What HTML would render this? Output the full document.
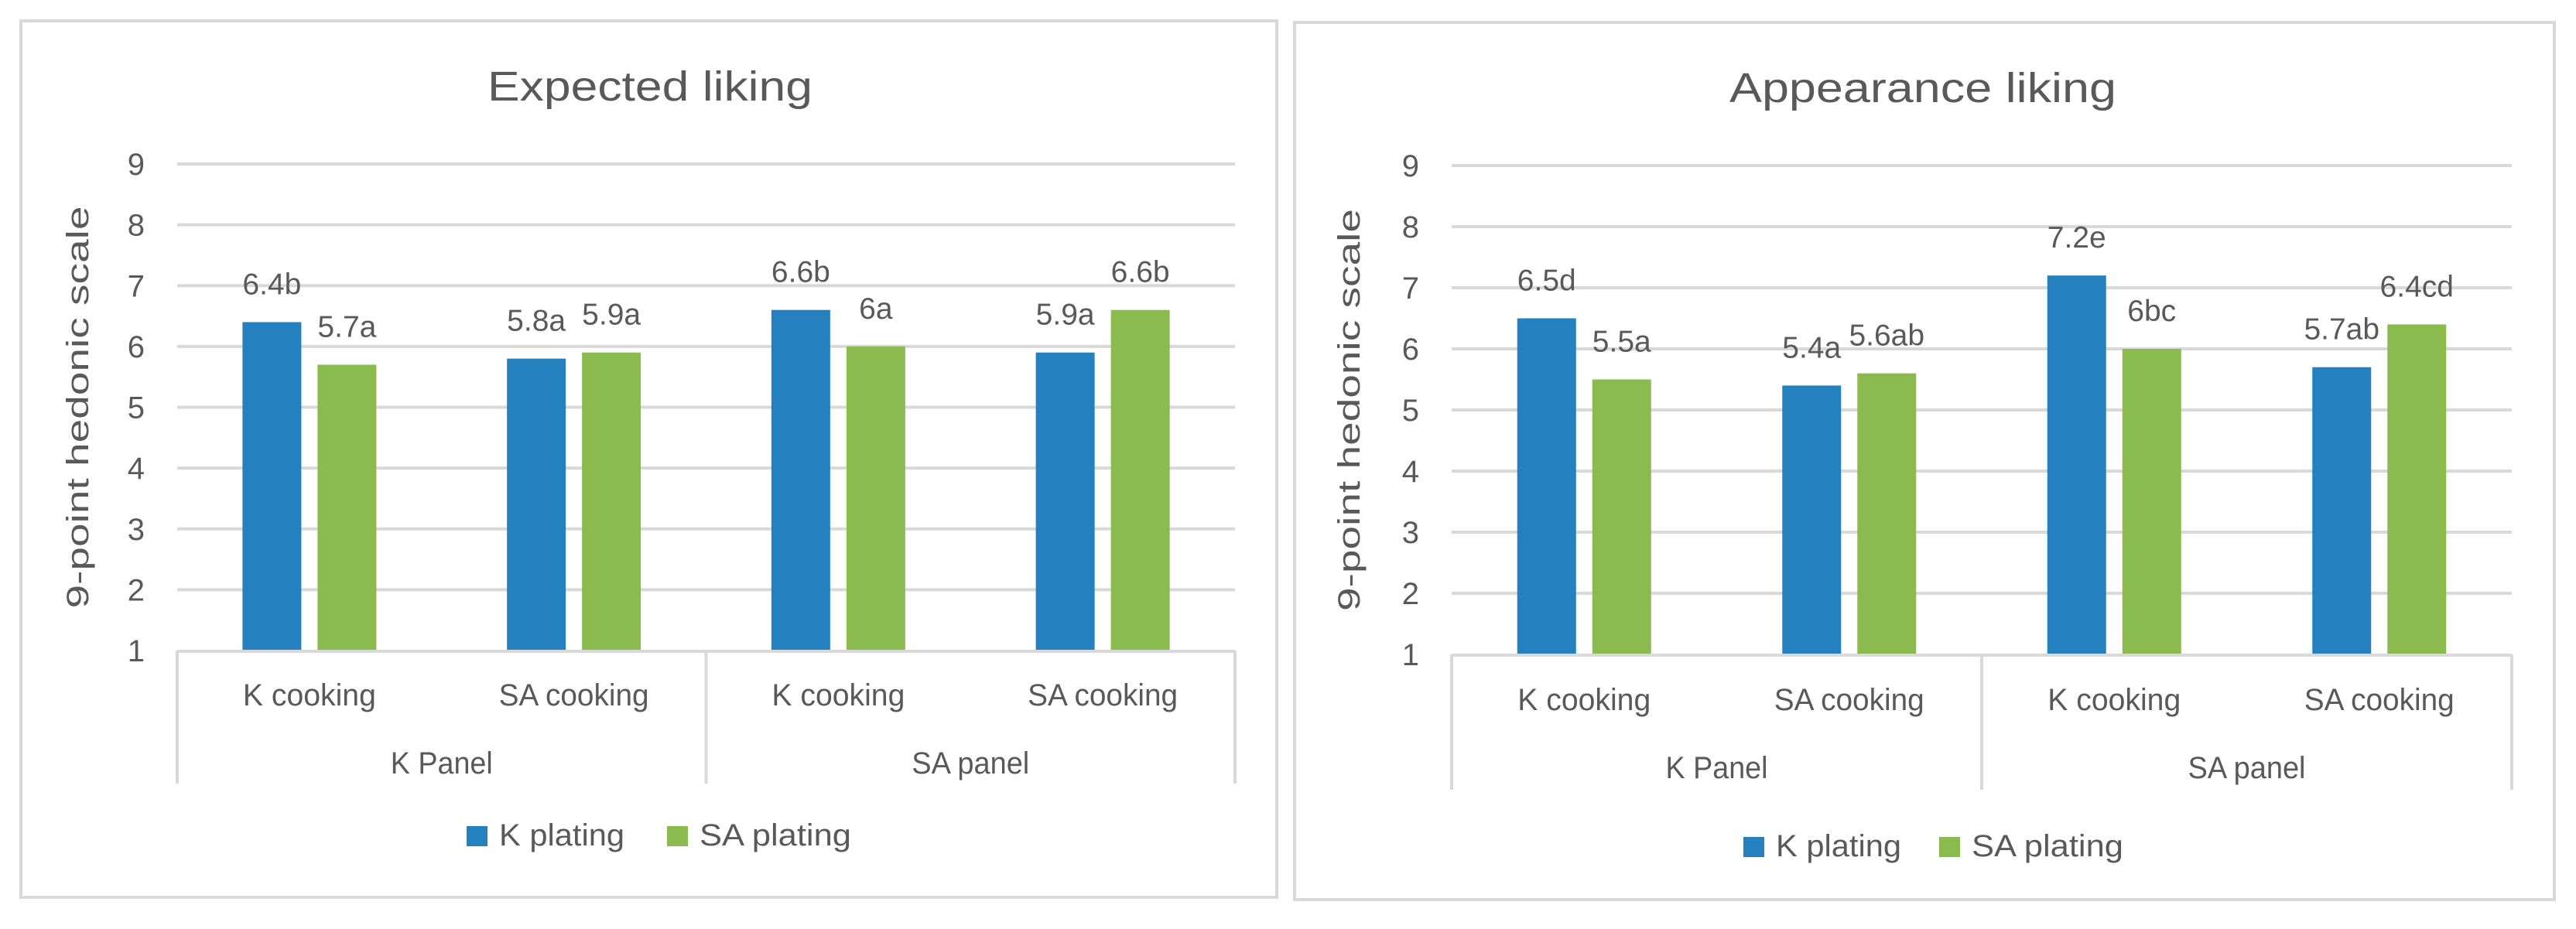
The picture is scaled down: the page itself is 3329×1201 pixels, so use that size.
<!DOCTYPE html>
<html><head><meta charset="utf-8"><style>
html,body{margin:0;padding:0;background:#fff;}
svg text{font-family:"Liberation Sans",sans-serif;fill:#595959;}
</style></head><body>
<svg id="root" width="3329" height="1196" viewBox="0 0 3329 1196" xmlns="http://www.w3.org/2000/svg">
<rect x="0" y="0" width="3329" height="1196" fill="#fff"/>
</svg>
<script>
const categories = ["K cooking","SA cooking","K cooking","SA cooking"];
const groups = ["K Panel","SA panel"];
const series = ["K plating","SA plating"];
const yTicks = [1,2,3,4,5,6,7,8,9];
const expKPlating = [6.4,5.8,6.6,5.9];
const expSAPlating = [5.7,5.9,6.0,6.6];
const expKLabels = ["6.4b","5.8a","6.6b","5.9a"];
const expSALabels = ["5.7a","5.9a","6a","6.6b"];
const appKPlating = [6.5,5.4,7.2,5.7];
const appSAPlating = [5.5,5.6,6.0,6.4];
const appKLabels = ["6.5d","5.4a","7.2e","5.7ab"];
const appSALabels = ["5.5a","5.6ab","6bc","6.4cd"];

const NS="http://www.w3.org/2000/svg";
const root=document.getElementById('root');
const colors=["#2580c0","#8bbb4f"];
function mk(tag,attrs,parent){const e=document.createElementNS(NS,tag);for(const k in attrs)e.setAttribute(k,attrs[k]);(parent||root).appendChild(e);return e;}

function chart(cfg){
  const g=mk('g',{});
  
  
  const fr=mk('rect',{x:cfg.fx,y:cfg.fy,width:cfg.fw,height:cfg.fh,fill:'#fff',stroke:'#d9d9d9','stroke-width':4},g);
  
  
  const t=mk('text',{x:cfg.tcx,y:cfg.ty,'text-anchor':'middle','font-size':54,textLength:cfg.tlen,lengthAdjust:'spacingAndGlyphs'},g);
  t.textContent=cfg.title;
  
  
  const x0=cfg.x0,x1=cfg.x1,ytop=cfg.y9,ybot=cfg.y1;
  const yS=v=>ybot-(v-1)*(ybot-ytop)/8;
  const cw=(x1-x0)/categories.length;
  const xC=i=>x0+cw*(i+0.5);
  yTicks.forEach(v=>{
    if(v>1){const l=mk('line',{x1:x0,x2:x1,y1:yS(v),y2:yS(v),stroke:'#d9d9d9','stroke-width':4},g);
      
      }
    const tl=mk('text',{x:cfg.x0-42,y:yS(v)+14,'text-anchor':'end','font-size':40},g);
    tl.textContent=v;
    
    
  });
  const yt=mk('text',{x:0,y:0,'text-anchor':'middle','font-size':40,textLength:520,lengthAdjust:'spacingAndGlyphs',transform:`translate(${cfg.ytx},${(ytop+ybot)/2}) rotate(-90)`},g);
  yt.textContent='9-point hedonic scale';
  
  
  const vals=[cfg.k,cfg.sa], labs=[cfg.kl,cfg.sal];
  const bw=76, off=48.5;
  for(let s=0;s<2;s++){
    vals[s].forEach((v,i)=>{
      const cx=xC(i)+(s===0?-off:off);
      const b=mk('rect',{x:cx-bw/2,y:yS(v),width:bw,height:ybot-yS(v),fill:colors[s]},g);
      
      
      const lt=mk('text',{x:cx,y:yS(v)-36,'text-anchor':'middle','font-size':39},g);
      lt.textContent=labs[s][i];
      
      
    });
  }
  const ax=mk('line',{x1:x0,x2:x1,y1:ybot+1,y2:ybot+1,stroke:'#d9d9d9','stroke-width':4},g);
  
  
  [x0,(x0+x1)/2,x1].forEach(xx=>{
    const d=mk('line',{x1:xx,x2:xx,y1:ybot,y2:cfg.divB,stroke:'#d9d9d9','stroke-width':4},g);
    
    
  });
  categories.forEach((c,i)=>{
    const ct=mk('text',{x:xC(i),y:cfg.catY,'text-anchor':'middle','font-size':40,textLength:c.length>9?194:172,lengthAdjust:'spacingAndGlyphs'},g);
    ct.textContent=c;
    
    
  });
  groups.forEach((gname,i)=>{
    const gt=mk('text',{x:x0+(x1-x0)*(i*0.5+0.25),y:cfg.grpY,'text-anchor':'middle','font-size':40,textLength:gname==='K Panel'?132:152,lengthAdjust:'spacingAndGlyphs'},g);
    gt.textContent=gname;
    
    
  });
  series.forEach((sname,s)=>{
    const lx=cfg.legX[s];
    const sq=mk('rect',{x:lx,y:cfg.legY,width:27,height:26,fill:colors[s]},g);
    
    
    const lt=mk('text',{x:lx+42,y:cfg.legY+25,'font-size':40,textLength:s===0?162:196,lengthAdjust:'spacingAndGlyphs'},g);
    lt.textContent=sname;
    
    
  });
}
chart({name:'expected-liking-chart',title:'Expected liking',fx:27,fy:27,fw:1623,fh:1133,tcx:840,ty:130,tlen:420,
  x0:229,x1:1596,y9:212,y1:841,ytx:114,divB:1013,catY:912,grpY:1000,legX:[603,862],legY:1068,
  k:expKPlating,sa:expSAPlating,kl:expKLabels,sal:expSALabels});
chart({name:'appearance-liking-chart',title:'Appearance liking',fx:1673,fy:29,fw:1628,fh:1134,tcx:2485,ty:132,tlen:500,
  x0:1876,x1:3246,y9:214,y1:846,ytx:1757,divB:1021,catY:918,grpY:1006,legX:[2253,2506],legY:1082,
  k:appKPlating,sa:appSAPlating,kl:appKLabels,sal:appSALabels});
</script>
</body></html>
